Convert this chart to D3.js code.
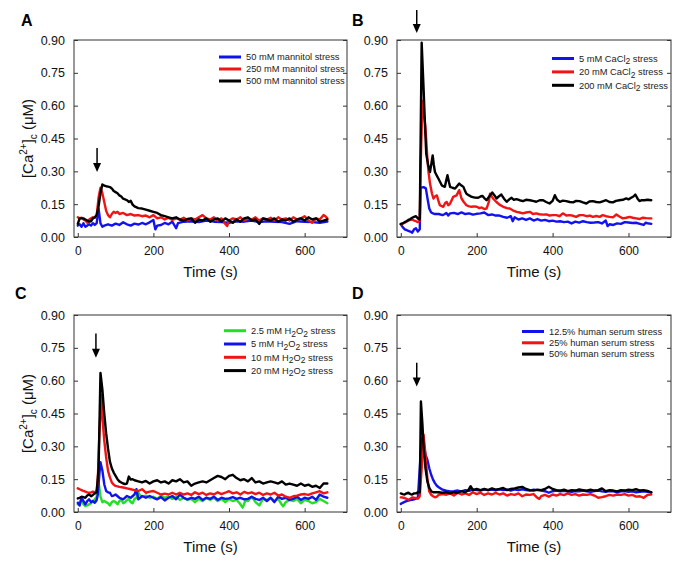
<!DOCTYPE html>
<html>
<head>
<meta charset="utf-8">
<script src="https://cdn.jsdelivr.net/npm/d3@7"></script>
<style>
  html, body { margin: 0; padding: 0; background: #fff; }
  svg { display: block; font-family: "Liberation Sans", Arial, sans-serif; }
</style>
</head>
<body>
<svg id="chart" width="697" height="571"></svg>
<script>
// ---------------- DATA ----------------
const xTicks = [0, 200, 400, 600];
const yTicks = [0, 0.15, 0.30, 0.45, 0.60, 0.75, 0.90];

// Panel A: mannitol
const mannitol50 = [[0,0.052],[5,0.058],[10,0.047],[15,0.063],[20,0.047],[25,0.052],[30,0.058],[35,0.052],[40,0.063],[45,0.055],[50,0.063],[55,0.13],[60,0.063],[65,0.047],[70,0.052],[80,0.058],[90,0.052],[100,0.061],[110,0.055],[120,0.067],[130,0.058],[140,0.052],[150,0.061],[160,0.057],[170,0.064],[180,0.058],[190,0.067],[200,0.078],[205,0.035],[210,0.052],[220,0.055],[230,0.064],[240,0.058],[250,0.07],[260,0.04],[265,0.063],[280,0.07],[300,0.072],[320,0.068],[340,0.075],[360,0.07],[380,0.068],[400,0.065],[420,0.072],[440,0.07],[460,0.075],[480,0.068],[500,0.072],[520,0.07],[540,0.068],[560,0.06],[580,0.072],[600,0.07],[620,0.068],[640,0.065],[660,0.07]];
const mannitol250 = [[0,0.09],[5,0.085],[10,0.088],[15,0.08],[20,0.075],[25,0.065],[30,0.08],[35,0.085],[40,0.09],[45,0.088],[50,0.1],[55,0.18],[60,0.225],[65,0.2],[70,0.16],[75,0.12],[80,0.1],[85,0.09],[90,0.105],[95,0.115],[100,0.11],[105,0.115],[110,0.105],[120,0.11],[130,0.1],[140,0.105],[150,0.098],[160,0.1],[170,0.095],[180,0.098],[190,0.09],[200,0.1],[210,0.085],[220,0.09],[230,0.08],[240,0.088],[250,0.078],[260,0.085],[270,0.08],[280,0.088],[290,0.075],[300,0.085],[310,0.08],[320,0.09],[330,0.1],[340,0.085],[350,0.08],[360,0.09],[370,0.075],[380,0.085],[390,0.06],[395,0.05],[400,0.075],[410,0.085],[420,0.08],[430,0.09],[440,0.075],[450,0.085],[460,0.08],[470,0.09],[480,0.075],[490,0.085],[500,0.08],[510,0.088],[520,0.075],[530,0.09],[540,0.08],[550,0.085],[560,0.075],[570,0.09],[580,0.08],[590,0.085],[600,0.095],[610,0.075],[620,0.065],[630,0.085],[640,0.08],[650,0.1],[655,0.095],[660,0.085]];
const mannitol500 = [[0,0.06],[5,0.085],[10,0.085],[15,0.085],[20,0.08],[25,0.075],[30,0.07],[35,0.072],[40,0.085],[45,0.09],[50,0.1],[55,0.14],[60,0.2],[65,0.24],[70,0.235],[75,0.232],[80,0.23],[85,0.228],[90,0.222],[95,0.21],[100,0.205],[105,0.2],[110,0.19],[115,0.185],[120,0.175],[125,0.172],[130,0.168],[135,0.16],[140,0.165],[145,0.148],[150,0.14],[160,0.132],[170,0.13],[180,0.125],[190,0.12],[200,0.115],[210,0.11],[220,0.1],[230,0.095],[240,0.09],[250,0.085],[260,0.09],[270,0.08],[280,0.075],[290,0.082],[300,0.085],[310,0.065],[320,0.08],[330,0.075],[340,0.085],[350,0.07],[360,0.08],[370,0.085],[380,0.07],[390,0.085],[400,0.075],[410,0.065],[420,0.08],[430,0.07],[440,0.085],[450,0.09],[460,0.075],[470,0.08],[480,0.06],[490,0.085],[500,0.08],[510,0.075],[520,0.085],[530,0.07],[540,0.08],[550,0.075],[560,0.085],[570,0.07],[580,0.08],[590,0.085],[600,0.075],[610,0.09],[620,0.08],[630,0.085],[640,0.07],[650,0.075],[660,0.08]];

// Panel B: CaCl2
const cacl5 = [[0,0.058],[5,0.045],[10,0.035],[15,0.032],[20,0.028],[25,0.025],[30,0.02],[35,0.035],[40,0.04],[45,0.025],[50,0.035],[52,0.222],[55,0.226],[60,0.228],[66,0.222],[70,0.18],[75,0.13],[80,0.112],[85,0.108],[90,0.105],[100,0.105],[110,0.1],[115,0.104],[120,0.11],[125,0.098],[130,0.108],[140,0.11],[150,0.105],[160,0.112],[170,0.105],[180,0.108],[190,0.102],[200,0.106],[210,0.108],[220,0.112],[230,0.1],[240,0.103],[250,0.098],[260,0.098],[270,0.092],[280,0.088],[290,0.095],[295,0.072],[300,0.09],[310,0.08],[320,0.085],[330,0.078],[340,0.085],[350,0.075],[360,0.082],[370,0.075],[380,0.078],[390,0.072],[400,0.075],[410,0.07],[420,0.072],[430,0.068],[440,0.07],[450,0.062],[460,0.07],[470,0.066],[480,0.072],[490,0.068],[500,0.065],[510,0.066],[520,0.068],[530,0.062],[540,0.075],[545,0.05],[550,0.058],[560,0.055],[570,0.062],[580,0.06],[590,0.068],[600,0.066],[610,0.064],[620,0.065],[630,0.06],[640,0.055],[645,0.065],[650,0.063],[660,0.06]];
const cacl20 = [[0,0.058],[5,0.062],[10,0.065],[15,0.07],[20,0.075],[25,0.078],[30,0.08],[35,0.075],[40,0.072],[45,0.068],[50,0.075],[52,0.3],[57,0.623],[60,0.58],[65,0.5],[70,0.36],[73,0.297],[77,0.244],[82,0.2],[86,0.176],[90,0.185],[95,0.19],[100,0.16],[103,0.145],[112,0.138],[117,0.155],[121,0.16],[125,0.145],[130,0.153],[138,0.183],[147,0.19],[154,0.214],[160,0.176],[166,0.16],[173,0.145],[180,0.14],[187,0.138],[193,0.14],[200,0.138],[207,0.132],[213,0.135],[220,0.128],[226,0.13],[232,0.16],[235,0.198],[243,0.176],[252,0.16],[260,0.148],[270,0.138],[280,0.132],[287,0.13],[295,0.122],[305,0.115],[313,0.112],[322,0.108],[330,0.112],[340,0.115],[348,0.105],[357,0.108],[365,0.104],[375,0.102],[384,0.103],[392,0.098],[400,0.1],[410,0.1],[418,0.095],[427,0.108],[436,0.098],[445,0.1],[454,0.097],[462,0.092],[471,0.1],[480,0.1],[490,0.095],[498,0.098],[506,0.092],[515,0.096],[524,0.092],[532,0.1],[541,0.095],[550,0.092],[559,0.09],[568,0.103],[576,0.094],[585,0.085],[594,0.088],[603,0.092],[611,0.088],[620,0.085],[629,0.082],[638,0.088],[647,0.086],[655,0.085],[660,0.085]];
const cacl200 = [[0,0.06],[5,0.062],[10,0.068],[15,0.072],[20,0.078],[25,0.082],[30,0.088],[35,0.092],[40,0.095],[45,0.085],[50,0.08],[55,0.888],[60,0.68],[64,0.5],[67,0.38],[72,0.33],[77,0.297],[81,0.34],[84,0.373],[87,0.33],[90,0.297],[95,0.28],[99,0.267],[104,0.25],[108,0.236],[112,0.232],[116,0.229],[120,0.26],[123,0.282],[127,0.25],[130,0.229],[136,0.225],[143,0.221],[148,0.232],[154,0.244],[160,0.235],[165,0.229],[169,0.212],[173,0.198],[180,0.19],[187,0.183],[195,0.18],[204,0.179],[210,0.185],[215,0.188],[220,0.178],[226,0.168],[233,0.185],[241,0.203],[247,0.19],[252,0.176],[258,0.185],[265,0.194],[272,0.175],[279,0.161],[286,0.172],[292,0.179],[298,0.17],[305,0.173],[313,0.168],[322,0.164],[330,0.17],[340,0.168],[348,0.165],[357,0.161],[366,0.168],[375,0.168],[383,0.16],[392,0.153],[400,0.165],[406,0.191],[412,0.17],[419,0.161],[427,0.166],[436,0.164],[445,0.16],[454,0.158],[462,0.165],[471,0.164],[480,0.158],[489,0.153],[497,0.162],[506,0.164],[515,0.16],[524,0.158],[532,0.163],[541,0.168],[550,0.16],[559,0.158],[567,0.165],[576,0.168],[585,0.17],[594,0.176],[600,0.172],[607,0.179],[613,0.185],[618,0.194],[624,0.175],[629,0.164],[635,0.168],[642,0.168],[650,0.17],[660,0.168]];

// Panel C: H2O2
const h2o2_2_5 = [[0,0.035],[5,0.045],[10,0.058],[15,0.035],[20,0.027],[25,0.03],[30,0.035],[35,0.04],[40,0.05],[45,0.058],[50,0.07],[55,0.14],[60,0.07],[65,0.045],[70,0.05],[75,0.045],[80,0.04],[85,0.03],[90,0.045],[95,0.05],[100,0.045],[105,0.035],[110,0.05],[115,0.055],[120,0.04],[125,0.045],[130,0.055],[135,0.06],[140,0.045],[145,0.04],[150,0.06],[155,0.065],[160,0.09],[165,0.075],[170,0.07],[180,0.075],[190,0.065],[200,0.07],[210,0.06],[220,0.075],[230,0.065],[240,0.07],[250,0.06],[260,0.07],[270,0.055],[280,0.065],[290,0.055],[300,0.06],[310,0.045],[320,0.06],[330,0.05],[340,0.065],[350,0.055],[360,0.065],[370,0.05],[380,0.06],[390,0.045],[400,0.06],[410,0.05],[420,0.055],[428,0.04],[436,0.02],[444,0.055],[450,0.05],[460,0.07],[470,0.045],[480,0.03],[490,0.06],[500,0.055],[510,0.065],[520,0.05],[530,0.06],[537,0.04],[543,0.026],[550,0.045],[560,0.055],[570,0.05],[580,0.06],[590,0.04],[600,0.055],[610,0.05],[620,0.04],[630,0.045],[640,0.06],[650,0.05],[660,0.04]];
const h2o2_5 = [[0,0.042],[5,0.03],[10,0.065],[15,0.05],[20,0.035],[25,0.05],[30,0.058],[35,0.045],[40,0.05],[45,0.042],[50,0.055],[53,0.08],[57,0.17],[60,0.227],[65,0.19],[70,0.127],[75,0.096],[80,0.09],[85,0.088],[90,0.073],[95,0.075],[100,0.08],[110,0.065],[120,0.058],[130,0.073],[140,0.065],[150,0.08],[155,0.104],[160,0.058],[165,0.065],[170,0.073],[180,0.065],[190,0.073],[200,0.065],[210,0.058],[220,0.068],[230,0.053],[240,0.065],[250,0.073],[260,0.058],[270,0.08],[280,0.065],[290,0.058],[300,0.065],[310,0.06],[320,0.07],[330,0.055],[340,0.065],[350,0.06],[360,0.07],[370,0.055],[380,0.065],[390,0.06],[400,0.062],[410,0.068],[420,0.06],[430,0.065],[440,0.058],[450,0.06],[460,0.07],[470,0.06],[480,0.055],[490,0.065],[500,0.05],[510,0.065],[520,0.045],[530,0.07],[540,0.06],[550,0.065],[560,0.055],[570,0.06],[580,0.07],[590,0.055],[600,0.065],[610,0.06],[620,0.07],[630,0.055],[640,0.08],[650,0.07],[660,0.065]];
const h2o2_10 = [[0,0.108],[5,0.104],[10,0.1],[15,0.096],[20,0.093],[25,0.09],[30,0.088],[35,0.09],[40,0.093],[45,0.088],[50,0.1],[53,0.15],[57,0.35],[62,0.535],[65,0.435],[70,0.327],[75,0.25],[80,0.188],[85,0.158],[90,0.135],[95,0.125],[100,0.119],[110,0.115],[120,0.112],[130,0.108],[140,0.104],[150,0.1],[160,0.096],[170,0.104],[180,0.088],[190,0.093],[200,0.096],[210,0.088],[220,0.08],[230,0.084],[240,0.08],[250,0.088],[260,0.08],[270,0.088],[280,0.08],[290,0.085],[300,0.078],[310,0.09],[320,0.082],[330,0.088],[340,0.078],[350,0.085],[360,0.08],[370,0.09],[380,0.082],[390,0.088],[400,0.095],[410,0.085],[420,0.09],[430,0.08],[440,0.092],[450,0.085],[460,0.09],[470,0.082],[480,0.088],[490,0.078],[500,0.085],[510,0.08],[520,0.088],[530,0.075],[540,0.08],[550,0.07],[560,0.065],[570,0.072],[580,0.075],[590,0.08],[600,0.082],[610,0.078],[620,0.085],[630,0.09],[640,0.095],[650,0.085],[660,0.09]];
const h2o2_20 = [[0,0.062],[5,0.065],[10,0.07],[15,0.068],[20,0.065],[25,0.075],[30,0.08],[35,0.072],[40,0.078],[45,0.085],[50,0.09],[55,0.2],[60,0.635],[65,0.56],[70,0.45],[75,0.36],[80,0.29],[85,0.23],[90,0.2],[95,0.18],[100,0.165],[105,0.15],[110,0.14],[115,0.135],[120,0.13],[125,0.128],[130,0.13],[135,0.162],[140,0.148],[145,0.15],[150,0.145],[160,0.14],[170,0.135],[180,0.142],[190,0.13],[200,0.14],[210,0.145],[220,0.135],[230,0.14],[240,0.13],[250,0.145],[260,0.14],[270,0.15],[280,0.135],[290,0.14],[300,0.12],[310,0.13],[320,0.135],[330,0.14],[340,0.135],[350,0.145],[360,0.155],[370,0.165],[380,0.16],[390,0.15],[400,0.165],[410,0.17],[420,0.155],[430,0.145],[440,0.15],[450,0.14],[460,0.155],[470,0.135],[480,0.14],[490,0.13],[500,0.135],[510,0.14],[520,0.135],[530,0.13],[540,0.14],[550,0.125],[560,0.13],[570,0.125],[580,0.12],[590,0.13],[600,0.12],[610,0.125],[620,0.115],[630,0.12],[640,0.11],[650,0.13],[660,0.13]];

// Panel D: human serum
const serum12_5 = [[0,0.037],[5,0.042],[10,0.046],[15,0.05],[20,0.052],[25,0.054],[30,0.056],[35,0.058],[40,0.061],[45,0.064],[50,0.2],[55,0.338],[60,0.315],[65,0.262],[70,0.239],[75,0.2],[80,0.17],[85,0.148],[90,0.132],[95,0.12],[100,0.113],[110,0.102],[120,0.097],[130,0.094],[140,0.095],[150,0.098],[160,0.094],[170,0.1],[180,0.097],[190,0.102],[200,0.1],[210,0.098],[220,0.103],[230,0.1],[240,0.102],[250,0.099],[260,0.104],[270,0.1],[280,0.102],[290,0.098],[300,0.103],[310,0.1],[320,0.104],[330,0.1],[340,0.098],[350,0.102],[360,0.1],[370,0.098],[380,0.095],[390,0.088],[400,0.095],[410,0.098],[420,0.094],[430,0.097],[440,0.095],[450,0.092],[460,0.096],[470,0.094],[480,0.098],[490,0.095],[500,0.092],[510,0.096],[520,0.098],[530,0.094],[540,0.092],[550,0.096],[560,0.094],[570,0.09],[580,0.094],[590,0.096],[600,0.092],[610,0.094],[620,0.09],[630,0.092],[640,0.095],[650,0.092],[660,0.09]];
const serum25 = [[0,0.067],[5,0.066],[10,0.064],[15,0.06],[20,0.056],[25,0.06],[30,0.067],[35,0.065],[40,0.064],[45,0.061],[50,0.072],[55,0.2],[60,0.353],[65,0.262],[70,0.155],[75,0.094],[80,0.079],[85,0.072],[90,0.067],[95,0.07],[100,0.079],[110,0.082],[120,0.079],[130,0.085],[140,0.075],[150,0.088],[160,0.08],[170,0.085],[180,0.078],[190,0.09],[200,0.082],[210,0.088],[220,0.078],[230,0.085],[240,0.08],[250,0.087],[260,0.08],[270,0.085],[280,0.075],[290,0.082],[300,0.078],[310,0.085],[320,0.072],[330,0.08],[340,0.078],[350,0.082],[360,0.065],[365,0.06],[370,0.072],[380,0.078],[390,0.07],[400,0.08],[410,0.075],[420,0.082],[430,0.077],[440,0.085],[450,0.078],[460,0.082],[470,0.075],[480,0.08],[490,0.078],[500,0.082],[510,0.075],[520,0.065],[530,0.068],[540,0.072],[550,0.078],[560,0.075],[570,0.08],[580,0.078],[590,0.082],[600,0.075],[610,0.078],[620,0.07],[630,0.072],[640,0.065],[650,0.078],[660,0.08]];
const serum50 = [[0,0.085],[5,0.082],[10,0.08],[15,0.085],[20,0.088],[25,0.082],[30,0.08],[35,0.085],[40,0.085],[45,0.09],[50,0.09],[53,0.505],[57,0.4],[60,0.3],[65,0.2],[70,0.14],[75,0.11],[80,0.095],[85,0.09],[90,0.09],[100,0.09],[110,0.088],[120,0.09],[130,0.085],[140,0.09],[150,0.088],[160,0.095],[170,0.09],[178,0.1],[184,0.118],[190,0.1],[200,0.105],[210,0.1],[220,0.105],[230,0.1],[240,0.108],[250,0.102],[260,0.105],[270,0.11],[280,0.1],[290,0.105],[300,0.108],[310,0.112],[320,0.115],[330,0.105],[340,0.1],[350,0.098],[360,0.102],[370,0.1],[380,0.105],[390,0.115],[400,0.105],[410,0.1],[420,0.098],[430,0.102],[440,0.095],[450,0.1],[460,0.098],[470,0.103],[480,0.1],[490,0.097],[500,0.102],[510,0.098],[520,0.1],[530,0.108],[540,0.095],[550,0.1],[560,0.098],[570,0.094],[580,0.1],[590,0.098],[600,0.102],[610,0.1],[620,0.104],[630,0.098],[640,0.1],[650,0.096],[660,0.09]];

// Arrows: [time, top value, tip value]
const arrowA = [51, 0.407, 0.297];
const arrowB = [42, 1.037, 0.932];
const arrowC = [48, 0.815, 0.705];
const arrowD = [42, 0.682, 0.573];

// Legend labels (segments: [text, isSubscript])
const legendA = [[["50 mM mannitol stress",0]],[["250 mM mannitol stress",0]],[["500 mM mannitol stress",0]]];
const legendB = [[["5 mM CaCl",0],["2",1],[" stress",0]],[["20 mM CaCl",0],["2",1],[" stress",0]],[["200 mM CaCl",0],["2",1],[" stress",0]]];
const legendC = [[["2.5 mM H",0],["2",1],["O",0],["2",1],[" stress",0]],[["5 mM H",0],["2",1],["O",0],["2",1],[" stress",0]],[["10 mM H",0],["2",1],["O",0],["2",1],[" stress",0]],[["20 mM H",0],["2",1],["O",0],["2",1],[" stress",0]]];
const legendD = [[["12.5% human serum stress",0]],[["25% human serum stress",0]],[["50% human serum stress",0]]];

// ---------------- STYLE / LAYOUT ----------------
const BLUE = "#1212f0", RED = "#f01414", BLACK = "#000000", GREEN = "#22e022";

const panels = [
  { label: "A", left: 74, right: 347, top: 40, bottom: 237, yTitle: true,
    series: [mannitol50, mannitol250, mannitol500], colors: [BLUE, RED, BLACK],
    legend: legendA, legX: 219, legY: 57, legDy: 12, arrow: arrowA, labX: 21, labY: 26 },
  { label: "B", left: 397, right: 671, top: 40, bottom: 237, yTitle: false,
    series: [cacl5, cacl20, cacl200], colors: [BLUE, RED, BLACK],
    legend: legendB, legX: 552, legY: 58.5, legDy: 13.4, arrow: arrowB, labX: 352, labY: 26 },
  { label: "C", left: 74, right: 347, top: 315, bottom: 512, yTitle: true,
    series: [h2o2_2_5, h2o2_5, h2o2_10, h2o2_20], colors: [GREEN, BLUE, RED, BLACK],
    legend: legendC, legX: 224, legY: 330.7, legDy: 13.3, arrow: arrowC, labX: 15, labY: 299 },
  { label: "D", left: 397, right: 671, top: 315, bottom: 512, yTitle: false,
    series: [serum12_5, serum25, serum50], colors: [BLUE, RED, BLACK],
    legend: legendD, legX: 522, legY: 331.5, legDy: 11.3, arrow: arrowD, labX: 352, labY: 299 }
];

const svg = d3.select("#chart");
const fmt = d3.format(".2f");

panels.forEach(p => {
  const x = d3.scaleLinear().domain([-10, 712]).range([p.left, p.right]);
  const y = d3.scaleLinear().domain([0, 0.9]).range([p.bottom, p.top]);
  const g = svg.append("g");

  // frame
  g.append("rect").attr("x", p.left).attr("y", p.top)
    .attr("width", p.right - p.left).attr("height", p.bottom - p.top)
    .attr("fill", "none").attr("stroke", "#333").attr("stroke-width", 1);

  // left axis (ticks inward)
  const yAxisL = g.append("g").attr("transform", `translate(${p.left},0)`)
    .call(d3.axisLeft(y).tickValues(yTicks).tickFormat(fmt).tickSizeInner(-4).tickSizeOuter(0).tickPadding(9));
  yAxisL.select(".domain").remove();
  yAxisL.selectAll("line").attr("stroke", "#333");
  yAxisL.selectAll("text").attr("font-size", 12.5).attr("fill", "#111")
    .attr("font-family", '"Liberation Sans", Arial, sans-serif');

  // right axis ticks (inward)
  const yAxisR = g.append("g").attr("transform", `translate(${p.right},0)`)
    .call(d3.axisRight(y).tickValues(yTicks).tickFormat("").tickSizeInner(-4).tickSizeOuter(0));
  yAxisR.select(".domain").remove();
  yAxisR.selectAll("line").attr("stroke", "#333");

  // bottom axis (ticks inward)
  const xAxis = g.append("g").attr("transform", `translate(0,${p.bottom})`)
    .call(d3.axisBottom(x).tickValues(xTicks).tickFormat(d3.format("d")).tickSizeInner(-4).tickSizeOuter(0).tickPadding(9));
  xAxis.select(".domain").remove();
  xAxis.selectAll("line").attr("stroke", "#333");
  xAxis.selectAll("text").attr("font-size", 12).attr("fill", "#111")
    .attr("font-family", '"Liberation Sans", Arial, sans-serif');

  // x title
  g.append("text").attr("x", (p.left + p.right) / 2).attr("y", p.bottom + 40)
    .attr("text-anchor", "middle").attr("font-size", 15).attr("fill", "#111").text("Time (s)");

  // y title
  if (p.yTitle) {
    const cy = (p.top + p.bottom) / 2;
    const t = g.append("text").attr("transform", `translate(33,${cy}) rotate(-90)`)
      .attr("text-anchor", "middle").attr("font-size", 15).attr("fill", "#111");
    t.append("tspan").text("[Ca");
    t.append("tspan").attr("font-size", 10).attr("dy", -6).text("2+");
    t.append("tspan").attr("dy", 6).text("]");
    t.append("tspan").attr("font-size", 10).attr("dy", 4).text("c");
    t.append("tspan").attr("dy", -4).text(" (\u03BCM)");
  }

  // panel label
  g.append("text").attr("x", p.labX).attr("y", p.labY).attr("font-size", 16)
    .attr("font-weight", "bold").attr("fill", "#000").text(p.label);

  // data lines
  const line = d3.line().x(d => x(d[0])).y(d => y(d[1]));
  p.series.forEach((s, i) => {
    g.append("path").datum(s).attr("d", line).attr("fill", "none")
      .attr("stroke", p.colors[i]).attr("stroke-width", 2.4)
      .attr("stroke-linejoin", "round").attr("stroke-linecap", "round");
  });

  // legend
  p.legend.forEach((segs, i) => {
    const ly = p.legY + i * p.legDy;
    g.append("line").attr("x1", p.legX).attr("x2", p.legX + 22)
      .attr("y1", ly).attr("y2", ly).attr("stroke", p.colors[i]).attr("stroke-width", 3);
    const t = g.append("text").attr("x", p.legX + 27).attr("y", ly + 3.3)
      .attr("font-size", 9.3).attr("fill", "#222");
    let prevSub = false;
    segs.forEach(([txt, sub]) => {
      const ts = t.append("tspan").text(txt);
      if (sub && !prevSub) ts.attr("dy", 2.5).attr("font-size", 8.5);
      else if (!sub && prevSub) ts.attr("dy", -2.5);
      prevSub = !!sub;
    });
  });

  // arrow
  const [at, av1, av2] = p.arrow;
  const ax = x(at), ay1 = y(av1), ay2 = y(av2);
  g.append("line").attr("x1", ax).attr("x2", ax).attr("y1", ay1).attr("y2", ay2 - 7)
    .attr("stroke", "#000").attr("stroke-width", 1.5);
  g.append("path").attr("d", `M${ax - 4},${ay2 - 9} L${ax + 4},${ay2 - 9} L${ax},${ay2} Z`)
    .attr("fill", "#000");
});
</script>
</body>
</html>
